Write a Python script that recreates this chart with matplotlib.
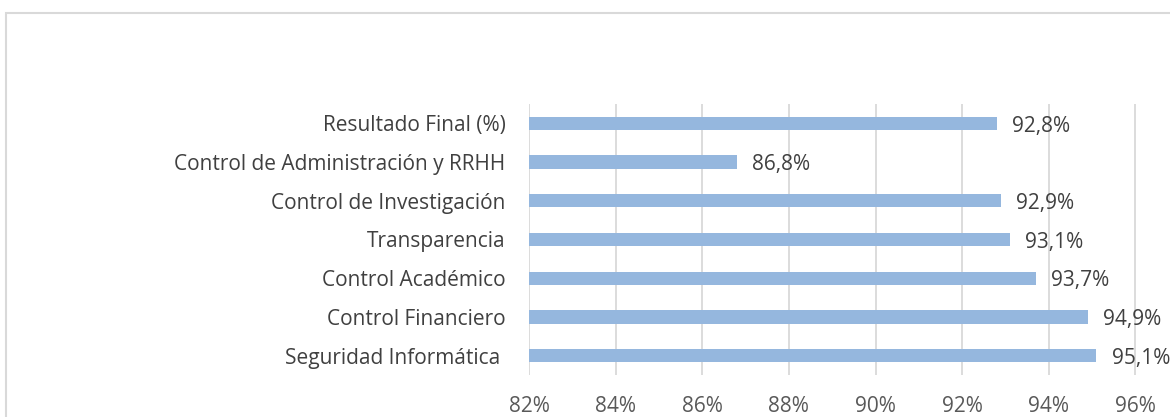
import matplotlib.pyplot as plt
from matplotlib.patches import Rectangle

categories = ['Seguridad Informática ', 'Control Financiero', 'Control Académico',
              'Transparencia', 'Control de Investigación',
              'Control de Administración y RRHH', 'Resultado Final (%)']
values = [95.1, 94.9, 93.7, 93.1, 92.9, 86.8, 92.8]
xticks = [82, 84, 86, 88, 90, 92, 94, 96]

plt.rcParams['font.family'] = ['Open Sans', 'DejaVu Sans']

fig = plt.figure(figsize=(11.7, 4.17), dpi=100, facecolor='w')
W, H = 1170, 417
ax = fig.add_axes([529 / W, (H - 375) / H, (1222 - 529) / W, (375 - 104) / H])

ypos = list(range(len(categories)))
ax.barh(ypos, [v - 82 for v in values], left=82, height=0.34, color='#95B7DE', zorder=3)
for y, v in zip(ypos, values):
    ax.annotate(f'{v:.1f}%'.replace('.', ','), (v, y), xytext=(11, -2),
                textcoords='offset points', ha='left', va='center',
                fontsize=15, color='#404040')

ax.set_xlim(82, 98)
ax.set_ylim(-0.5, len(categories) - 0.5)
ax.set_xticks(xticks)
ax.set_xticklabels([f'{t}%' for t in xticks], fontsize=15, color='#595959')
ax.set_yticks(ypos)
ax.set_yticklabels(categories, fontsize=15, color='#404040')
ax.tick_params(axis='both', length=0)
ax.tick_params(axis='y', pad=17)
ax.tick_params(axis='x', pad=15)
ax.grid(axis='x', color='#D9D9D9', linewidth=1.3, zorder=0)
for s in ax.spines.values():
    s.set_visible(False)

fig.patches.append(Rectangle((6 / W, -0.1), 1.2, (H - 13) / H + 0.1,
                             transform=fig.transFigure, fill=False,
                             edgecolor='#D9D9D9', linewidth=1.5))

fig.savefig('out.png', dpi=100)
